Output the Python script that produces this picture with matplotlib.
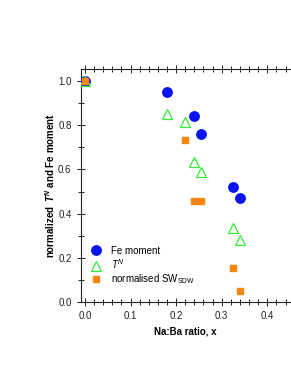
import matplotlib.pyplot as plt
from matplotlib.ticker import MultipleLocator

plt.rcParams['font.family'] = ['Liberation Sans', 'DejaVu Sans']
plt.rcParams['mathtext.fontset'] = 'custom'
plt.rcParams['mathtext.rm'] = 'Liberation Sans'
plt.rcParams['mathtext.it'] = 'Liberation Sans:italic'
plt.rcParams['mathtext.bf'] = 'Liberation Sans:bold'
plt.rcParams['mathtext.bfit'] = 'Liberation Sans:italic:bold'

# Fe moment
x_fe = [0.0, 0.179, 0.24, 0.255, 0.325, 0.34]
y_fe = [1.0, 0.952, 0.842, 0.762, 0.52, 0.472]

# T^N
x_tn = [0.0, 0.179, 0.219, 0.24, 0.255, 0.325, 0.34]
y_tn = [1.0, 0.852, 0.815, 0.632, 0.59, 0.335, 0.28]

# normalised SW_SDW
x_sw = [0.0, 0.22, 0.24, 0.255, 0.325, 0.34]
y_sw = [1.0, 0.733, 0.458, 0.455, 0.152, 0.051]

fig = plt.figure(figsize=(2.91, 3.76), dpi=100)
ax = fig.add_axes([0.277, 0.197, 0.72, 0.619])

ax.plot(x_fe, y_fe, 'o', color='#0a14f0', ms=6.8, mec='#0a14f0',
        label='Fe moment', zorder=3)
ax.plot(x_tn, y_tn, '^', mfc='none', mec='#33ee33', ms=7, mew=0.9,
        label='$T^N$', zorder=3)
ax.plot(x_sw, y_sw, 's', color='#f7860f', ms=4.6, label='normalised SW$_{\\mathrm{SDW}}$',
        zorder=4)

ax.set_xlim(-0.0094, 0.45)
ax.set_ylim(0.0, 1.054)
ax.xaxis.set_major_locator(MultipleLocator(0.1))
ax.xaxis.set_minor_locator(MultipleLocator(0.02))
ax.yaxis.set_major_locator(MultipleLocator(0.2))
ax.yaxis.set_minor_locator(MultipleLocator(0.1))

ax.spines['right'].set_visible(False)
for s in ax.spines.values():
    s.set_linewidth(0.8)
    s.set_color('#222222')

ax.tick_params(axis='both', which='both', direction='inout', labelsize=7,
               colors='#222222', width=0.7, top=True)
ax.tick_params(axis='both', which='major', length=6)
ax.tick_params(axis='both', which='minor', length=4)
ax.tick_params(axis='x', which='both', top=True, labeltop=False)

ax.set_xlabel('Na:Ba ratio, x', fontsize=7, fontweight='bold', labelpad=4)
ax.set_ylabel('normalized  $\\mathbfit{T}^{\\mathbfit{N}}$ and Fe moment', fontsize=7,
              fontweight='bold', labelpad=1)

ax.legend(loc='lower left', frameon=False, fontsize=7, handletextpad=0.9,
          labelspacing=0.15, borderaxespad=0.6, handlelength=1.2,
          bbox_to_anchor=(0.0, 0.025))

fig.savefig('out.png', dpi=100)
